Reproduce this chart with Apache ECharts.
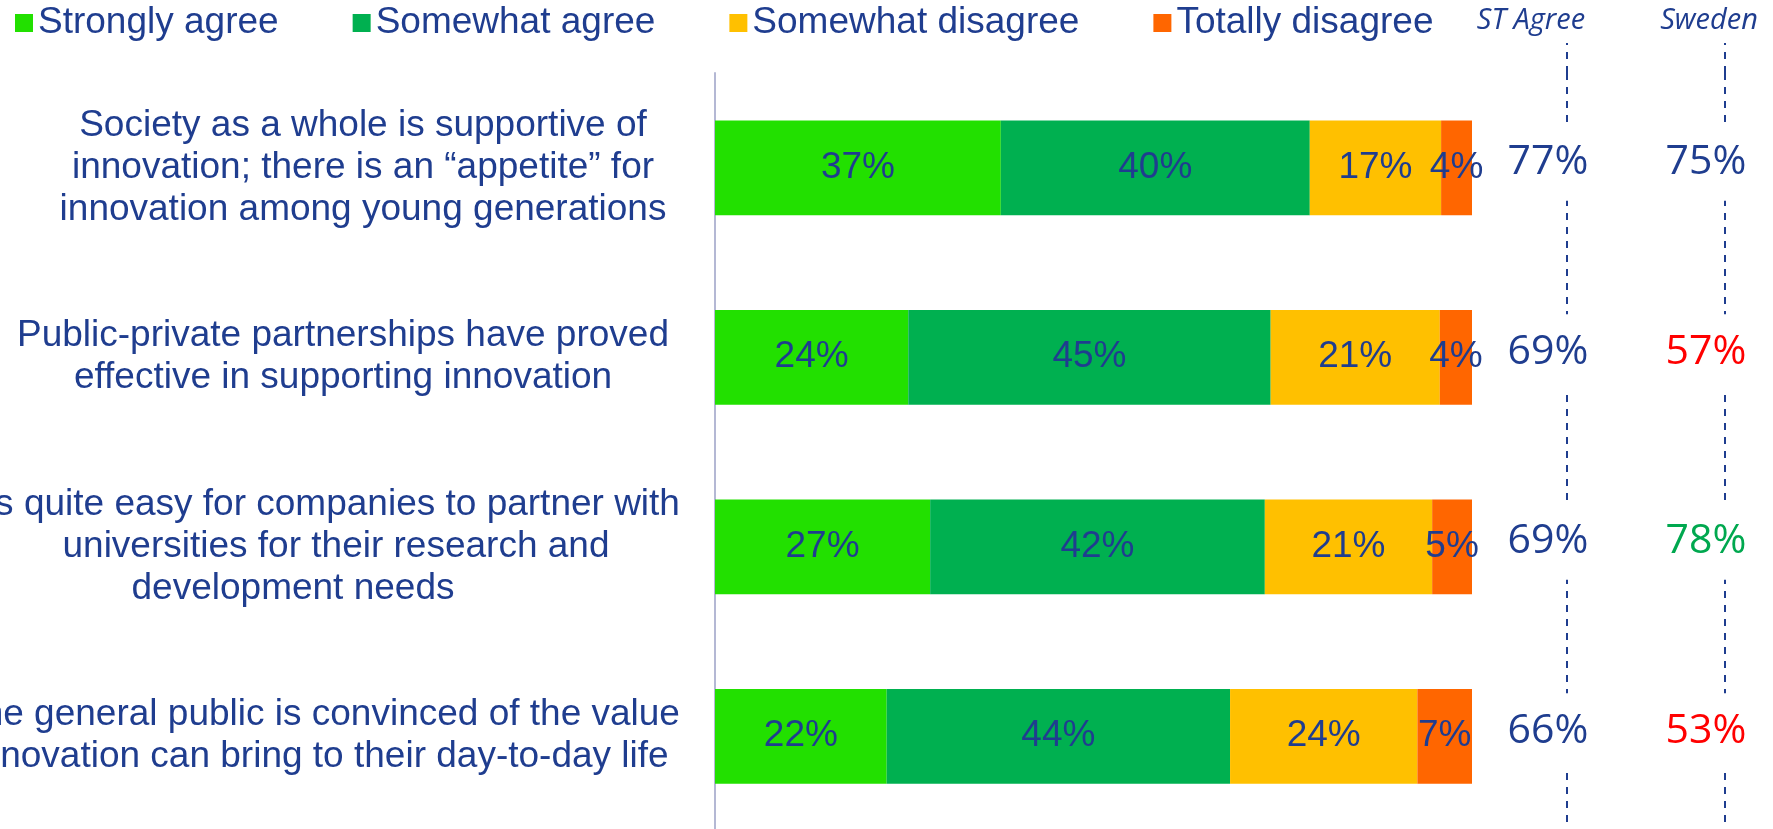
<!DOCTYPE html>
<html>
<head>
<meta charset="utf-8">
<script src="https://cdn.jsdelivr.net/npm/echarts@6/dist/echarts.min.js"></script>
<style>
html,body{margin:0;padding:0;background:#fff;}
#c{width:1773px;height:829px;}
</style>
</head>
<body>
<div id="c"></div>
<script>
// ---------- DATA ----------
const categories = [
  'Society as a whole is supportive of\ninnovation; there is an \u201cappetite\u201d for\ninnovation among young generations',
  'Public-private partnerships have proved\neffective in supporting innovation',
  'It is quite easy for companies to partner with\nuniversities for their research and\ndevelopment needs',
  'The general public is convinced of the value\ninnovation can bring to their day-to-day life'
];
const seriesNames = ['Strongly agree', 'Somewhat agree', 'Somewhat disagree', 'Totally disagree'];
const stronglyAgree    = [37, 24, 27, 22];
const somewhatAgree    = [40, 45, 42, 44];
const somewhatDisagree = [17, 21, 21, 24];
const totallyDisagree  = [4, 4, 5, 7];
const columnHeaders = ['ST Agree', 'Sweden'];
const stAgree = [77, 69, 69, 66];
const sweden  = [75, 57, 78, 53];

// ---------- STYLE / LAYOUT ----------
const BLUE = '#1F3D8F';
const RED = '#FF0000';
const GREEN = '#00A84F';
const FONT = '"Liberation Sans", Arial, sans-serif';
const VFONT = '"Open Sans", "Noto Sans", sans-serif';
const barColors = ['#22E000', '#00B050', '#FFC000', '#FF6600'];
const AXIS_X = 715, LABEL_BASE = 340;
const lineCenters = [[363, 363, 363], [343, 343], [318, 336, 293], [320, 320]];

const seriesValues = [stronglyAgree, somewhatAgree, somewhatDisagree, totallyDisagree];
const totals = categories.map((c, i) => seriesValues.reduce((s, arr) => s + arr[i], 0));

const rich = {};
categories.forEach((c, i) => {
  c.split('\n').forEach((ln, j) => {
    const d = lineCenters[i][j] - LABEL_BASE;
    rich['l' + i + '_' + j] = {
      fontFamily: FONT, fontSize: 37, lineHeight: 42, color: BLUE, align: 'center',
      padding: [0, d < 0 ? -2 * d : 0, 0, d > 0 ? 2 * d : 0]
    };
  });
});

function swedenColor(sw, st) {
  const d = sw - st;
  if (d >= 5) return GREEN;
  if (d <= -5) return RED;
  return BLUE;
}

const barSeries = seriesNames.map((name, k) => ({
  type: 'bar',
  name: name,
  stack: 'total',
  xAxisIndex: 0,
  yAxisIndex: 0,
  barWidth: '50%',
  itemStyle: { color: barColors[k] },
  emphasis: { disabled: true },
  label: {
    show: true,
    position: 'inside',
    color: BLUE,
    fontFamily: FONT,
    fontSize: 37,
    formatter: p => seriesValues[k][p.dataIndex] + '%'
  },
  data: seriesValues[k].map((v, i) => v / totals[i] * 100)
}));

const valueLabel = {
  show: true,
  position: 'inside',
  fontFamily: VFONT,
  fontSize: 41,
  fontWeight: 500,
  lineHeight: 44,
  color: BLUE,
  opacity: 1,
  offset: [-19, -5],
  backgroundColor: '#fff',
  padding: [16, 4],
  formatter: p => p.value[2] + '%'
};

const option = {
  backgroundColor: '#fff',
  animation: false,
  legend: {
    data: seriesNames,
    left: 10,
    top: -2,
    icon: 'rect',
    itemWidth: 18,
    itemHeight: 18,
    itemGap: 74,
    selectedMode: false,
    textStyle: { color: BLUE, fontFamily: FONT, fontSize: 37, lineHeight: 40 }
  },
  grid: [
    { left: AXIS_X, width: 757, top: 73, height: 758, containLabel: false, outerBoundsMode: 'none' },
    { left: 1567, width: 158, top: 73, height: 758, containLabel: false, outerBoundsMode: 'none' }
  ],
  xAxis: [
    { gridIndex: 0, type: 'value', min: 0, max: 100, show: false },
    {
      gridIndex: 1, type: 'category', data: columnHeaders, boundaryGap: false, position: 'top',
      axisLine: { show: false },
      axisTick: { show: true, length: 30, interval: 0, lineStyle: { color: BLUE, width: 2, type: [7, 7] } },
      splitLine: { show: true, interval: 0, lineStyle: { color: BLUE, width: 2, type: [7, 7] } },
      axisLabel: {
        interval: 0, margin: 36, align: 'center',
        formatter: (v, idx) => idx === 0 ? '{a|' + v + '}' : '{b|' + v + '}',
        rich: {
          a: { fontFamily: VFONT, fontStyle: 'italic', fontSize: 29, lineHeight: 32, color: BLUE, align: 'center', padding: [0, 72, 0, 0] },
          b: { fontFamily: VFONT, fontStyle: 'italic', fontSize: 29, lineHeight: 32, color: BLUE, align: 'center', padding: [0, 32, 0, 0] }
        }
      }
    }
  ],
  yAxis: [
    {
      gridIndex: 0, type: 'category', data: categories, inverse: true,
      axisLine: { show: true, lineStyle: { color: '#B4B8D4', width: 2 } },
      axisTick: { show: false },
      splitLine: { show: false },
      axisLabel: {
        interval: 0, margin: AXIS_X - LABEL_BASE, align: 'center', hideOverlap: false,
        formatter: (val, idx) => val.split('\n').map((ln, j) => '{l' + idx + '_' + j + '|' + ln + '}').join('\n'),
        rich: rich
      }
    },
    { gridIndex: 1, type: 'category', data: categories, inverse: true, show: false }
  ],
  series: barSeries.concat([
    {
      type: 'scatter', name: columnHeaders[0], xAxisIndex: 1, yAxisIndex: 1, symbolSize: 0,
      emphasis: { disabled: true }, z: 5, itemStyle: { opacity: 1 },
      label: valueLabel,
      data: stAgree.map((v, i) => [0, i, v])
    },
    {
      type: 'scatter', name: columnHeaders[1], xAxisIndex: 1, yAxisIndex: 1, symbolSize: 0,
      emphasis: { disabled: true }, z: 5, itemStyle: { opacity: 1 },
      label: valueLabel,
      data: sweden.map((v, i) => ({ value: [1, i, v], label: { color: swedenColor(v, stAgree[i]) } }))
    }
  ])
};

const chart = echarts.init(document.getElementById('c'), null, { renderer: 'canvas' });
chart.setOption(option);
</script>
</body>
</html>
